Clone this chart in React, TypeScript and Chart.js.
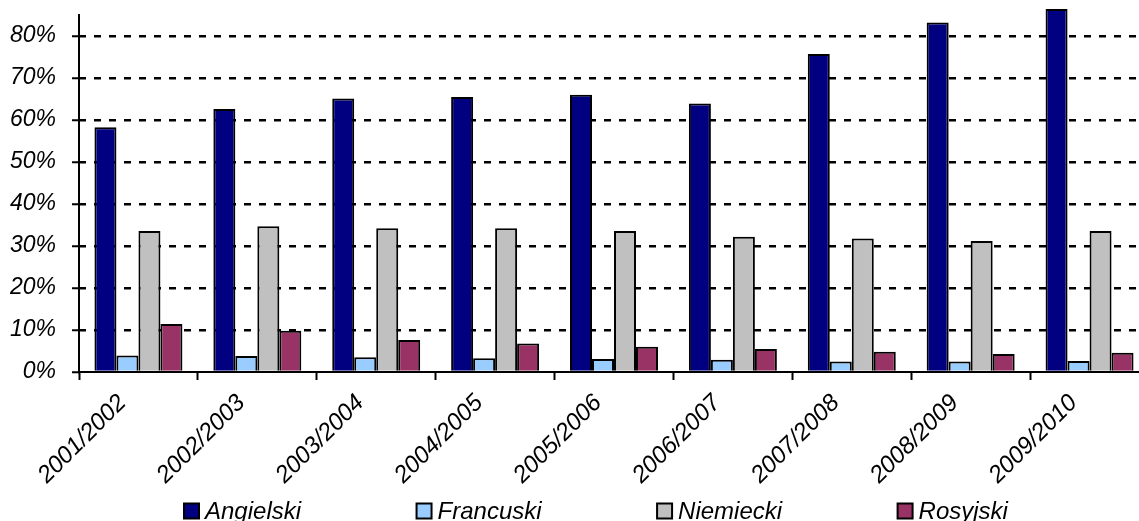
import React, { useEffect, useRef } from 'react';
import { Chart, registerables } from 'chart.js';

Chart.register(...registerables);

const categories = [
  '2001/2002', '2002/2003', '2003/2004', '2004/2005', '2005/2006',
  '2006/2007', '2007/2008', '2008/2009', '2009/2010',
];
const angielski = [58.3, 62.6, 65.1, 65.5, 66.0, 63.9, 75.7, 83.2, 86.4];
const francuski = [3.9, 3.8, 3.5, 3.3, 3.1, 2.9, 2.5, 2.5, 2.6];
const niemiecki = [33.6, 34.7, 34.2, 34.2, 33.6, 32.2, 31.8, 31.2, 33.6];
const rosyjski = [11.4, 9.8, 7.6, 6.8, 6.0, 5.5, 4.8, 4.3, 4.6];
const seriesNames = ['Angielski', 'Francuski', 'Niemiecki', 'Rosyjski'];
const seriesColors = ['#000080', '#99CCFF', '#C0C0C0', '#993366'];
const yTickValues = [0, 10, 20, 30, 40, 50, 60, 70, 80];

const FONT = 'Arial, "Liberation Sans", Helvetica, sans-serif';

const excelLegend = {
  id: 'excelLegend',
  afterDraw(chart: any, _args: any, opts: any) {
    const ctx = chart.ctx;
    ctx.save();
    ctx.font = `italic ${opts.size}px ${FONT}`;
    ctx.textBaseline = 'middle';
    ctx.textAlign = 'left';
    let x = opts.startX;
    const y = opts.y;
    const box = opts.box;
    chart.data.datasets.forEach((ds: any) => {
      ctx.fillStyle = ds.backgroundColor;
      ctx.fillRect(x, y - box / 2, box, box);
      ctx.lineWidth = 2;
      ctx.strokeStyle = '#000';
      ctx.strokeRect(x, y - box / 2, box, box);
      ctx.fillStyle = '#000';
      ctx.fillText(ds.label, x + box + opts.textGap, y + 1);
      x += box + opts.textGap + ctx.measureText(ds.label).width + opts.gap;
    });
    ctx.restore();
  },
};

export default function App() {
  const ref = useRef<HTMLCanvasElement | null>(null);

  useEffect(() => {
    if (!ref.current) return;
    const seriesData = [angielski, francuski, niemiecki, rosyjski];
    const chart = new Chart(ref.current, {
      type: 'bar',
      data: {
        labels: categories,
        datasets: seriesNames.map((name, i) => ({
          label: name,
          data: seriesData[i],
          backgroundColor: seriesColors[i],
          borderColor: '#000',
          borderWidth: 2,
          borderSkipped: 'start',
          categoryPercentage: 0.74,
          barPercentage: 1,
          clip: false,
        })),
      },
      options: {
        animation: false,
        responsive: false,
        maintainAspectRatio: false,
        events: [],
        layout: { padding: { top: 15, left: 0, right: 0, bottom: 38 } },
        plugins: {
          legend: { display: false },
          title: { display: false },
          tooltip: { enabled: false },
          excelLegend: { startX: 184, y: 511, box: 15, textGap: 6, gap: 115.5, size: 24 },
        } as any,
        scales: {
          x: {
            offset: true,
            grid: {
              offset: true,
              drawOnChartArea: false,
              drawTicks: true,
              tickLength: 8,
              tickWidth: 2,
              tickColor: '#000',
            },
            border: { color: '#000', width: 2 },
            ticks: {
              color: '#000',
              font: { family: FONT, size: 24, style: 'italic' },
              maxRotation: 45,
              minRotation: 45,
              autoSkip: false,
              padding: 9,
              labelOffset: -16,
            },
            afterFit: (scale: any) => {
              scale.height = 120;
            },
          },
          y: {
            min: 0,
            max: 85,
            afterBuildTicks: (scale: any) => {
              scale.ticks = yTickValues.map((v) => ({ value: v }));
            },
            afterFit: (scale: any) => {
              scale.width = 79;
              scale.paddingTop = 0;
              scale.paddingBottom = 0;
            },
            grid: {
              color: (c: any) => (c.tick && c.tick.value === 0 ? 'rgba(0,0,0,0)' : '#000'),
              lineWidth: 2.5,
              drawTicks: true,
              tickLength: 7,
              tickWidth: 2,
              tickColor: '#000',
            },
            border: { color: '#000', width: 2, dash: [7, 8], dashOffset: 1 },
            ticks: {
              color: '#000',
              font: { family: FONT, size: 23, style: 'italic' },
              padding: 16,
              callback: (v: any) => `${v}%`,
            },
          },
        },
      },
      plugins: [excelLegend],
    });
    return () => chart.destroy();
  }, []);

  return (
    <div
      style={{
        position: 'fixed',
        left: 0,
        top: 0,
        width: '100vw',
        height: '100vh',
        overflow: 'hidden',
        background: '#fff',
      }}
    >
      <canvas
        ref={ref}
        width={1149}
        height={530}
        style={{ position: 'absolute', left: 0, top: 0, width: 1149, height: 530 }}
      />
    </div>
  );
}
